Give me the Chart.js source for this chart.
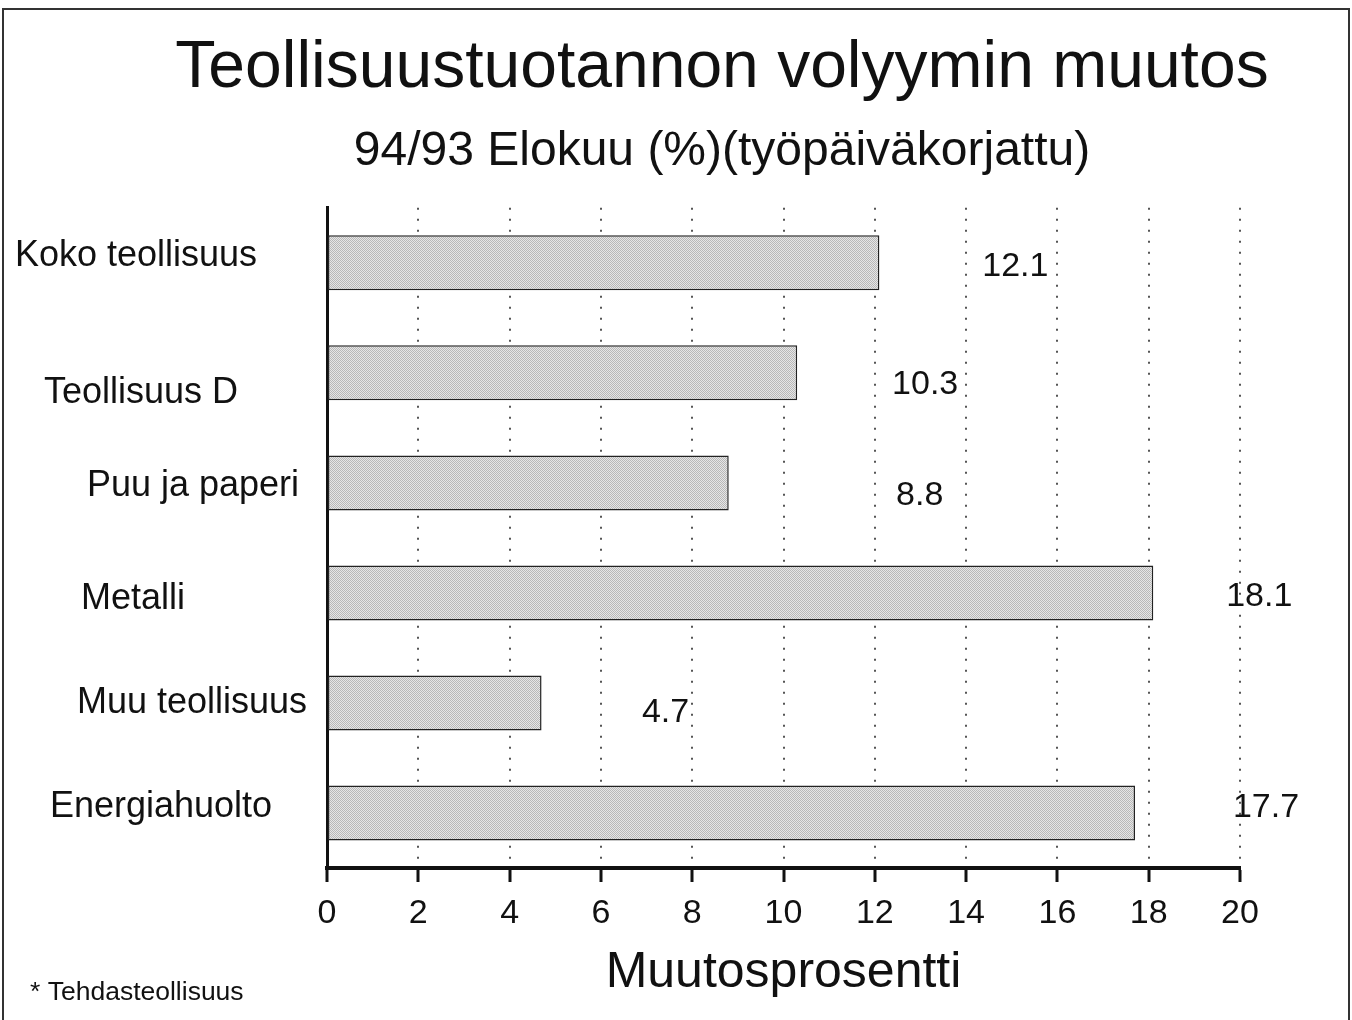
<!DOCTYPE html>
<html>
<head>
<meta charset="utf-8">
<script src="https://cdn.jsdelivr.net/npm/chart.js@4.4.1/dist/chart.umd.min.js"></script>
<style>
  html, body { margin: 0; padding: 0; background: #fff; }
  #wrap { position: relative; width: 1352px; height: 1020px; }
</style>
</head>
<body>
<div id="wrap"><canvas id="barChart" width="1352" height="1020"></canvas></div>
<script>
// Data
var categories = ['Koko teollisuus', 'Teollisuus D', 'Puu ja paperi', 'Metalli', 'Muu teollisuus', 'Energiahuolto'];
var values = [12.1, 10.3, 8.8, 18.1, 4.7, 17.7];
var xTickValues = [0, 2, 4, 6, 8, 10, 12, 14, 16, 18, 20];
var footnote = '* Tehdasteollisuus';

var FONT = "'Liberation Sans', Arial, Helvetica, sans-serif";

// where the labels sit (the scan places them by hand)
var catLabelPos = [[136, -7], [141, 20], [193, 3], [133, 6], [192, 0], [161, -6]]; // x centre, dy from bar centre
var valLabelPos = [[136, 4], [128, 12], [191, 13], [106, 4], [124, 10], [131, -5]];  // dx from bar end, dy

// halftone-ish bar fill
function makePattern() {
    var c = document.createElement('canvas');
    c.width = 2; c.height = 2;
    var g = c.getContext('2d');
    g.fillStyle = '#e6e6e6'; g.fillRect(0, 0, 2, 2);
    g.fillStyle = '#b8b8b8'; g.fillRect(0, 0, 1, 1); g.fillRect(1, 1, 1, 1);
    return g.createPattern(c, 'repeat');
}

var labelsPlugin = {
    id: 'labelsPlugin',
    afterDraw: function (chart) {
        var ctx = chart.ctx;
        var y = chart.scales.y;
        var x = chart.scales.x;
        ctx.save();
        ctx.fillStyle = '#111';
        ctx.textBaseline = 'middle';
        ctx.textAlign = 'center';
        ctx.font = '36px ' + FONT;
        categories.forEach(function (name, i) {
            var p = catLabelPos[i];
            ctx.fillText(name, p[0], y.getPixelForValue(i) + p[1]);
        });
        ctx.font = '34px ' + FONT;
        values.forEach(function (v, i) {
            var p = valLabelPos[i];
            ctx.fillText(v.toFixed(1), x.getPixelForValue(v) + p[0], y.getPixelForValue(i) + p[1]);
        });
        ctx.textAlign = 'left';
        ctx.font = '26.5px ' + FONT;
        ctx.fillText(footnote, 30, 993);
        // frame
        ctx.strokeStyle = '#333';
        ctx.lineWidth = 2;
        ctx.beginPath();
        ctx.moveTo(3, 1020); ctx.lineTo(3, 9); ctx.lineTo(1349, 9); ctx.lineTo(1349, 1020);
        ctx.stroke();
        ctx.restore();
    }
};

var barChart = new Chart(document.getElementById('barChart').getContext('2d'), {
    type: 'bar',
    data: {
        labels: categories,
        datasets: [{
            data: values,
            backgroundColor: makePattern(),
            borderColor: '#222',
            borderWidth: 1.5,
            borderSkipped: false,
            barPercentage: 0.5,
            categoryPercentage: 1
        }]
    },
    options: {
        indexAxis: 'y',
        responsive: false,
        animation: false,
        layout: { padding: { left: 92, right: 0, top: 29, bottom: 0 } },
        plugins: {
            legend: { display: false },
            tooltip: { enabled: false },
            title: {
                display: true,
                text: 'Teollisuustuotannon volyymin muutos',
                color: '#111',
                font: { family: FONT, size: 66, weight: 'normal', lineHeight: 1.2 },
                padding: { top: 0, bottom: 15 }
            },
            subtitle: {
                display: true,
                text: '94/93 Elokuu (%)(työpäiväkorjattu)',
                color: '#111',
                font: { family: FONT, size: 48, weight: 'normal', lineHeight: 1.2 },
                padding: { top: 0, bottom: 27 }
            }
        },
        scales: {
            x: {
                min: 0,
                max: 20,
                afterBuildTicks: function (scale) {
                    scale.ticks = xTickValues.map(function (v) { return { value: v }; });
                },
                afterFit: function (scale) { scale.height = 152; },
                grid: {
                    color: function (c) { return c.tick && c.tick.value === 0 ? 'rgba(0,0,0,0)' : '#555'; },
                    lineWidth: 2,
                    tickLength: 14,
                    tickColor: '#111',
                    tickWidth: 3,
                    tickBorderDash: [],
                    drawTicks: true
                },
                border: { display: true, color: '#111', width: 4, dash: [2, 9] },
                ticks: {
                    color: '#111',
                    padding: 11,
                    maxRotation: 0,
                    font: { family: FONT, size: 34 }
                },
                title: {
                    display: true,
                    text: 'Muutosprosentti',
                    color: '#111',
                    font: { family: FONT, size: 50 },
                    padding: { top: 0, bottom: 17 }
                }
            },
            y: {
                grid: { display: false },
                border: { display: true, color: '#111', width: 3 },
                ticks: { display: false },
                afterFit: function (scale) { scale.width = 235; }
            },
            yR: {
                type: 'linear',
                position: 'right',
                display: true,
                grid: { display: false },
                border: { display: false },
                ticks: { display: false },
                afterFit: function (scale) { scale.width = 112; }
            }
        }
    },
    plugins: [labelsPlugin]
});
</script>
</body>
</html>
